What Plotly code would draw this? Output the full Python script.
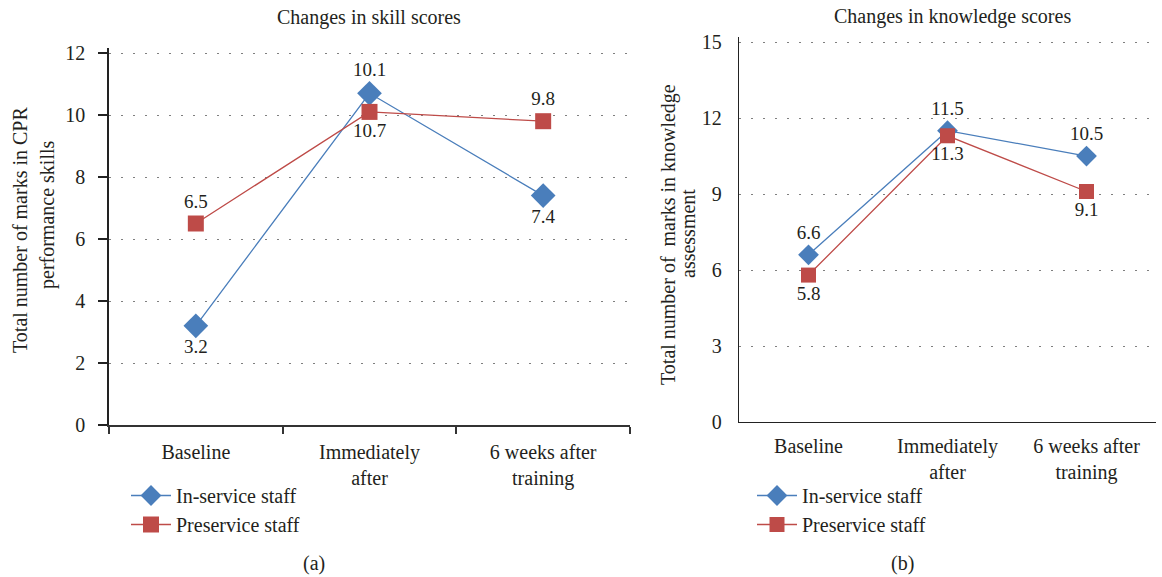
import plotly.graph_objects as go

# ---------------- data ----------------
categories = ["Baseline", "Immediately<br>after", "6 weeks after<br>training"]

skill_inservice = [3.2, 10.7, 7.4]
skill_preservice = [6.5, 10.1, 9.8]
# data labels as printed in the source figure
skill_inservice_labels = ["3.2", "10.1", "7.4"]
skill_preservice_labels = ["6.5", "10.7", "9.8"]

know_inservice = [6.6, 11.5, 10.5]
know_preservice = [5.8, 11.3, 9.1]
know_inservice_labels = ["6.6", "11.5", "10.5"]
know_preservice_labels = ["5.8", "11.3", "9.1"]

series_names = ["In-service staff", "Preservice staff"]
skill_ticks = [0, 2, 4, 6, 8, 10, 12]
know_ticks = [0, 3, 6, 9, 12, 15]

# ---------------- style ----------------
W, H = 1162, 577
FONT = "'Liberation Serif', 'Times New Roman', serif"
TXT = "#231f20"
BLUE = "#4a7ebb"
RED = "#be4b48"
GRID = "#7f7f7f"


def px(x):
    return x / W


def py(y):
    return 1 - y / H


def f(size):
    return dict(family=FONT, size=size, color=TXT)


fig = go.Figure()

# Left chart traces
fig.add_trace(go.Scatter(
    x=categories, y=skill_inservice, name=series_names[0],
    mode="lines+markers+text", text=skill_inservice_labels,
    textposition=["bottom center", "top center", "bottom center"],
    textfont=f(19),
    line=dict(color=BLUE, width=1.3),
    marker=dict(symbol="diamond", size=19, color=BLUE, line=dict(width=0)),
    xaxis="x", yaxis="y", legend="legend", cliponaxis=False))
fig.add_trace(go.Scatter(
    x=categories, y=skill_preservice, name=series_names[1],
    mode="lines+markers+text", text=skill_preservice_labels,
    textposition=["top center", "bottom center", "top center"],
    textfont=f(19),
    line=dict(color=RED, width=1.3),
    marker=dict(symbol="square", size=16, color=RED, line=dict(width=0)),
    xaxis="x", yaxis="y", legend="legend", cliponaxis=False))

# Right chart traces
fig.add_trace(go.Scatter(
    x=categories, y=know_inservice, name=series_names[0],
    mode="lines+markers+text", text=know_inservice_labels,
    textposition="top center",
    textfont=f(19),
    line=dict(color=BLUE, width=1.3),
    marker=dict(symbol="diamond", size=16, color=BLUE, line=dict(width=0)),
    xaxis="x2", yaxis="y2", legend="legend2", cliponaxis=False))
fig.add_trace(go.Scatter(
    x=categories, y=know_preservice, name=series_names[1],
    mode="lines+markers+text", text=know_preservice_labels,
    textposition="bottom center",
    textfont=f(19),
    line=dict(color=RED, width=1.3),
    marker=dict(symbol="square", size=15, color=RED, line=dict(width=0)),
    xaxis="x2", yaxis="y2", legend="legend2", cliponaxis=False))

# pixel geometry of the two plot areas (y of value 0 and px per unit)
L0, LPU = 425, 31.0
R0, RPU = 422, 25.33
LTOP = 12.15
RTOP = 15.2

fig.update_layout(
    template="none",
    width=W, height=H,
    margin=dict(l=0, r=0, t=0, b=0, autoexpand=False),
    paper_bgcolor="white", plot_bgcolor="white",
    font=f(19),
    xaxis=dict(domain=[px(109), px(630)], type="category", range=[-0.5, 2.5],
               tickson="boundaries", ticks="outside", ticklen=7, tickwidth=2,
               tickcolor="#333333", showline=True, linewidth=2,
               linecolor="#333333", showgrid=False, tickfont=f(20),
               ticklabelstandoff=8, anchor="y", automargin=False),
    yaxis=dict(domain=[py(L0), py(L0 - LTOP * LPU)], range=[0, LTOP],
               tickvals=skill_ticks,
               ticks="outside", ticklen=9, tickwidth=1.5, tickcolor="#222222",
               showline=True, linewidth=1.5, linecolor="#222222",
               showgrid=True, gridcolor=GRID, gridwidth=1, griddash="2px,10px",
               zeroline=False, tickfont=f(20), ticklabelstandoff=9,
               anchor="x", automargin=False),
    xaxis2=dict(domain=[px(739), px(1156)], type="category", range=[-0.5, 2.5],
                ticks="", showline=True, linewidth=1.3, linecolor="#222222",
                showgrid=False, tickfont=f(20), ticklabelstandoff=6,
                anchor="y2", automargin=False),
    yaxis2=dict(domain=[py(R0), py(R0 - RTOP * RPU)], range=[0, RTOP],
                tickvals=know_ticks,
                ticks="", showline=True, linewidth=1.3, linecolor="#222222",
                showgrid=True, gridcolor=GRID, gridwidth=1, griddash="2px,10px",
                zeroline=False, tickfont=f(20), ticklabelstandoff=12,
                anchor="x2", automargin=False),
    legend=dict(x=px(126), y=py(476), xanchor="left", yanchor="top",
                bgcolor="rgba(0,0,0,0)", font=f(20),
                tracegroupgap=0, itemwidth=40),
    legend2=dict(x=px(752), y=py(476), xanchor="left", yanchor="top",
                 bgcolor="rgba(0,0,0,0)", font=f(20),
                 tracegroupgap=0, itemwidth=40),
    showlegend=True,
)

annotations = [
    dict(text="Changes in skill scores", x=px(369), y=py(18)),
    dict(text="Changes in knowledge scores", x=px(952), y=py(17)),
    dict(text="Total number of marks in CPR", x=px(20), y=py(230), textangle=-90),
    dict(text="performance skills", x=px(48), y=py(215), textangle=-90),
    dict(text="Total number of &nbsp;marks in knowledge", x=px(668), y=py(235), textangle=-90),
    dict(text="assessment", x=px(688), y=py(234), textangle=-90),
    dict(text="(a)", x=px(314), y=py(563)),
    dict(text="(b)", x=px(902), y=py(563)),
]
for a in annotations:
    a.update(xref="paper", yref="paper", showarrow=False, font=f(20),
             xanchor="center", yanchor="middle")
fig.update_layout(annotations=annotations)

fig.write_html(
    "out.html",
    config={"displayModeBar": False},
    post_script="document.body.style.margin='0';document.body.style.overflow='hidden';",
)
